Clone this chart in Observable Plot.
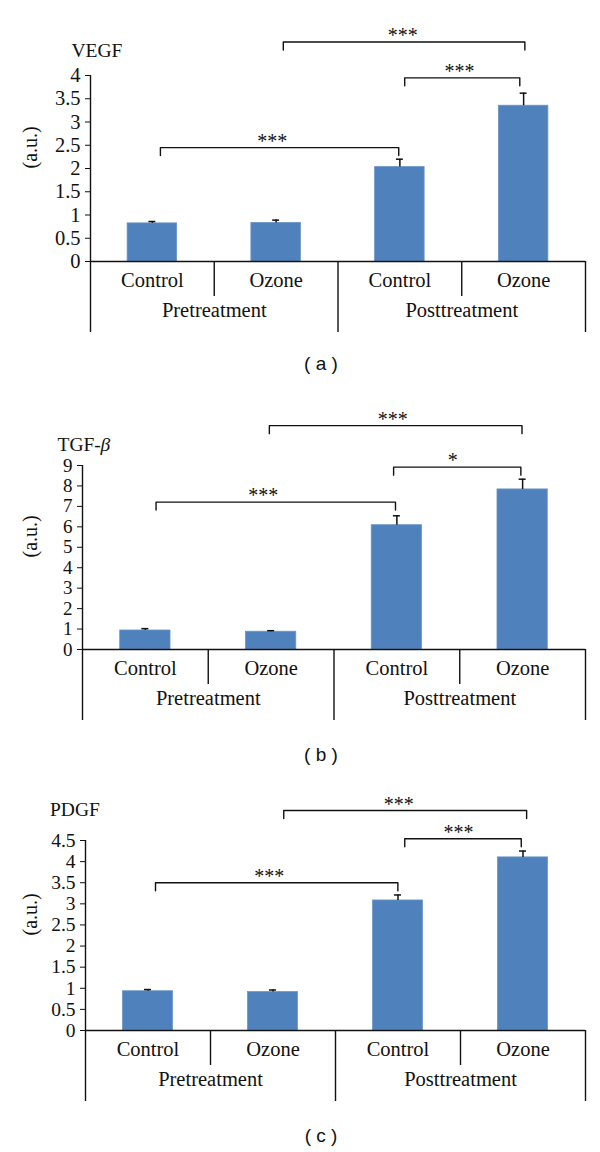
<!DOCTYPE html>
<html><head><meta charset="utf-8">
<script src="https://cdn.jsdelivr.net/npm/d3@7"></script>
<script src="https://cdn.jsdelivr.net/npm/@observablehq/plot@0.6"></script>
<style>
body{margin:0;background:#fff;}
#root{position:relative;width:600px;height:1152px;overflow:hidden;background:#fff;}
.panel{position:absolute;left:0;width:600px;}
.cap{position:absolute;left:0;width:600px;height:24px;line-height:24px;text-align:center;font:19px "Liberation Sans",Arial,sans-serif;color:#111;white-space:pre;padding-left:42px;box-sizing:border-box;}
</style></head><body><div id="root"></div>
<script>
// ---- data ----
const categories = ["Control", "Ozone", "Control", "Ozone"];
const groups = ["Pretreatment", "Posttreatment"];

const vegfValues = [0.82, 0.83, 2.03, 3.35];
const vegfErrors = [0.04, 0.06, 0.17, 0.27];
const vegfTicks = [0, 0.5, 1, 1.5, 2, 2.5, 3, 3.5, 4];
const vegfBracketFrom = [0.065, 2.039, 1.058];
const vegfBracketTo = [1.991, 2.969, 3.010];
const vegfBracketLevel = [2.45, 3.95, 4.72];
const vegfBracketLabel = ["***", "***", "***"];
const vegfBracketLabelX = [0.968, 2.481, 2.023];

const tgfValues = [0.93, 0.87, 6.08, 7.83];
const tgfErrors = [0.09, 0.05, 0.46, 0.50];
const tgfTicks = [0, 1, 2, 3, 4, 5, 6, 7, 8, 9];
const tgfBracketFrom = [0.085, 1.974, 0.986];
const tgfBracketTo = [1.989, 2.986, 2.995];
const tgfBracketLevel = [7.21, 8.92, 10.95];
const tgfBracketLabel = ["***", "*", "***"];
const tgfBracketLabelX = [0.937, 2.445, 1.967];

const pdgfValues = [0.93, 0.91, 3.08, 4.10];
const pdgfErrors = [0.04, 0.05, 0.13, 0.15];
const pdgfTicks = [0, 0.5, 1, 1.5, 2, 2.5, 3, 3.5, 4, 4.5];
const pdgfBracketFrom = [0.06, 2.054, 1.086];
const pdgfBracketTo = [1.999, 2.986, 3.029];
const pdgfBracketLevel = [3.50, 4.54, 5.21];
const pdgfBracketLabel = ["***", "***", "***"];
const pdgfBracketLabelX = [0.970, 2.484, 2.005];

// ---- drawing ----
const ink = "#111";
const serif = "'Liberation Serif', 'Times New Roman', serif";
const labelSize = 20.5;

function panel(cfg) {
  const rows = categories.map((c, i) => ({i, cat: c, value: cfg.values[i], err: cfg.errors[i]}));
  const yMax = cfg.ticks[cfg.ticks.length - 1];
  const pxPerUnit = (cfg.height - cfg.marginTop - cfg.marginBottom) / yMax;
  const down = px => -px / pxPerUnit;
  const brackets = cfg.bFrom.map((f, k) => ({k, from: f, to: cfg.bTo[k], level: cfg.bLevel[k], label: cfg.bLabel[k], lx: cfg.bLabelX[k]}));
  const bracketPts = brackets.flatMap(b => [
    {k: b.k, x: b.from, y: b.level + down(8)},
    {k: b.k, x: b.from, y: b.level},
    {k: b.k, x: b.to, y: b.level},
    {k: b.k, x: b.to, y: b.level + down(8)}
  ]);
  const dividers = [
    {x: -0.5, d: 71}, {x: 0.5, d: 35}, {x: 1.5, d: 71}, {x: 2.5, d: 35}, {x: 3.5, d: 71}
  ];
  const groupRows = groups.map((g, j) => ({g, x: j * 2 + 0.5}));
  const titleMarks = cfg.titleParts.map(p => Plot.text([p.t], {
    text: d => d, frameAnchor: "top-left", textAnchor: "start", lineAnchor: "bottom",
    dx: cfg.titleDx + p.off, dy: cfg.titleDy, fontStyle: p.italic ? "italic" : "normal",
    fontSize: 19.5, fill: ink
  }));
  return Plot.plot({
    width: 600,
    height: cfg.height,
    marginTop: cfg.marginTop,
    marginBottom: cfg.marginBottom,
    marginLeft: cfg.marginLeft,
    marginRight: 15,
    style: {fontFamily: serif, fontSize: cfg.tickFont + "px", color: ink, background: "transparent", overflow: "visible"},
    x: {domain: [-0.5, 3.5], axis: null},
    y: {domain: [0, yMax], ticks: cfg.ticks, tickSize: 5, tickPadding: 5, tickFormat: d => String(d), label: null},
    marks: [
      Plot.rect(rows, {x1: d => d.i - 0.2, x2: d => d.i + 0.2, y1: 0, y2: "value", fill: "#4F81BD", stroke: "#6B95C8", strokeWidth: 0.8}),
      Plot.ruleX(rows, {x: "i", y1: "value", y2: d => d.value + d.err, stroke: ink, strokeWidth: 1.5}),
      Plot.ruleY(rows, {y: d => d.value + d.err, x1: d => d.i - 0.028, x2: d => d.i + 0.028, stroke: ink, strokeWidth: 1.5}),
      Plot.ruleX([-0.5], {y1: 0, y2: yMax, stroke: ink, strokeWidth: 1.4}),
      Plot.ruleY([0], {stroke: ink, strokeWidth: 1.4}),
      Plot.ruleX(dividers, {x: "x", y1: 0, y2: d => down(d.d), stroke: ink, strokeWidth: 1.4}),
      Plot.text(rows, {x: "i", y: 0, text: "cat", dy: 25.5, lineAnchor: "bottom", fontSize: labelSize, fill: ink}),
      Plot.text(groupRows, {x: "x", y: 0, text: "g", dy: 55, lineAnchor: "bottom", fontSize: labelSize, fill: ink}),
      Plot.line(bracketPts, {x: "x", y: "y", z: "k", stroke: ink, strokeWidth: 1.4}),
      Plot.text(brackets, {x: "lx", y: "level", text: "label", lineAnchor: "bottom", dy: 0, fontSize: 20, fill: ink, letterSpacing: "2px"}),
      Plot.text(["(a.u.)"], {text: d => d, frameAnchor: "left", dx: 30 - cfg.marginLeft, rotate: -90, fontSize: 20, fill: ink}),
      ...titleMarks
    ]
  });
}

const root = document.getElementById("root");
const panels = [
  {top: 0, height: 345, marginTop: 75, marginBottom: 84, marginLeft: 90, tickFont: 20.5,
   values: vegfValues, errors: vegfErrors, ticks: vegfTicks,
   bFrom: vegfBracketFrom, bTo: vegfBracketTo, bLevel: vegfBracketLevel, bLabel: vegfBracketLabel, bLabelX: vegfBracketLabelX,
   titleParts: [{t: "VEGF", off: 0}], titleDx: -19, titleDy: -19, caption: "( a )", capY: 365},
  {top: 390, height: 345, marginTop: 75, marginBottom: 86, marginLeft: 82, tickFont: 19,
   values: tgfValues, errors: tgfErrors, ticks: tgfTicks,
   bFrom: tgfBracketFrom, bTo: tgfBracketTo, bLevel: tgfBracketLevel, bLabel: tgfBracketLabel, bLabelX: tgfBracketLabelX,
   titleParts: [{t: "TGF-", off: 0}, {t: "β", off: 43, italic: true}], titleDx: -25, titleDy: -15, caption: "( b )", capY: 756},
  {top: 775, height: 340, marginTop: 65, marginBottom: 85, marginLeft: 85, tickFont: 19.5,
   values: pdgfValues, errors: pdgfErrors, ticks: pdgfTicks,
   bFrom: pdgfBracketFrom, bTo: pdgfBracketTo, bLevel: pdgfBracketLevel, bLabel: pdgfBracketLabel, bLabelX: pdgfBracketLabelX,
   titleParts: [{t: "PDGF", off: 0}], titleDx: -35.5, titleDy: -25, caption: "( c )", capY: 1137}
];
for (const p of panels) {
  const div = document.createElement("div");
  div.className = "panel";
  div.style.top = p.top + "px";
  div.appendChild(panel(p));
  root.appendChild(div);
  const cap = document.createElement("div");
  cap.className = "cap";
  cap.style.top = (p.capY - 12) + "px";
  cap.textContent = p.caption;
  root.appendChild(cap);
}
</script>
</body></html>
